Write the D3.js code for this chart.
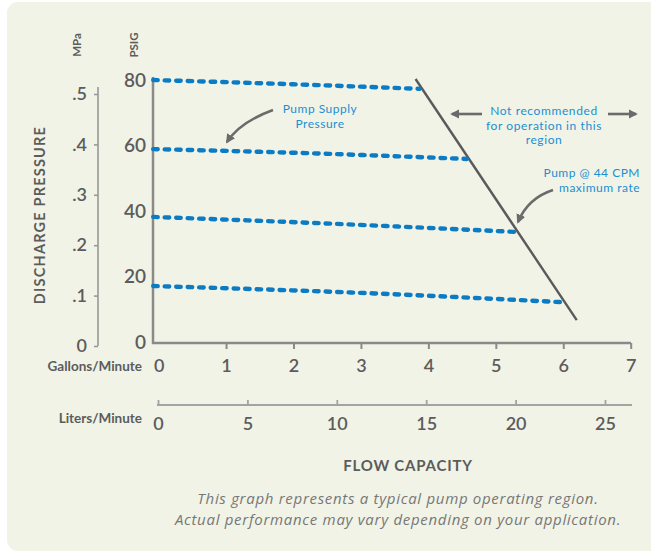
<!DOCTYPE html>
<html><head><meta charset="utf-8">
<script src="https://cdn.jsdelivr.net/npm/d3@7"></script>
<style>
html,body{margin:0;padding:0;background:#fff;}
svg{display:block;}
svg text{font-family:Lato,"Noto Sans",sans-serif;}
</style></head>
<body>
<script>
// ---- data ----
const gpmTicks = [0,1,2,3,4,5,6,7];
const lpmTicks = [0,5,10,15,20,25];
const psigTicks = [0,20,40,60,80];
const mpaTicks = [0,0.1,0.2,0.3,0.4,0.5];
const mpaLabels = ["0",".1",".2",".3",".4",".5"];
// supply pressure curves: [gpm, psig]
const supply80 = [[-0.08,80.3],[2,79.0],[3.87,77.6]];
const supply60 = [[-0.08,59.2],[2.3,57.9],[4.57,56.2]];
const supply40 = [[-0.08,38.5],[2.6,36.4],[5.31,33.9]];
const supply20 = [[-0.08,17.4],[3.0,15.3],[5.95,12.5]];
const supplySeries = [supply80, supply60, supply40, supply20];
const maxRate = [[3.81,80.6],[6.20,7.0]];

const W=651,H=552;
const svg=d3.select("body").append("svg").attr("width",W).attr("height",H);
svg.append("defs").append("marker").attr("id","ah").attr("viewBox","0 0 10 10")
  .attr("refX",8).attr("refY",5).attr("markerWidth",3.6).attr("markerHeight",3.6)
  .attr("orient","auto-start-reverse").attr("markerUnits","strokeWidth")
  .append("path").attr("d","M0,0 L10,5 L0,10 z").attr("fill","#6b6b6b");

svg.append("rect").attr("x",7).attr("y",2).attr("width",660).attr("height",549).attr("rx",11)
  .attr("fill","#f1f3e6");

const x=d3.scaleLinear().domain([0,7]).range([158.6,630.7]);
const xL=d3.scaleLinear().domain([0,25]).range([158,605]);
const y=d3.scaleLinear().domain([0,80]).range([343,81]);
const yM=d3.scaleLinear().domain([0,0.5]).range([346,94]);

const grey="#5c5c5c";
// PSIG axis
svg.append("line").attr("x1",153).attr("x2",153).attr("y1",77).attr("y2",344)
  .attr("stroke","#8a8a8a").attr("stroke-width",2.5);
svg.selectAll(".pl").data(psigTicks).join("text").attr("x",146).attr("y",d=>y(d)+1)
  .attr("text-anchor","end").attr("dominant-baseline","middle").attr("font-size",19)
  .attr("font-weight",600).attr("fill",grey).text(d=>d);
// MPa axis
const gM=svg.append("g").attr("transform","translate(98,0)");
const axM=d3.axisLeft(yM).tickValues(mpaTicks).tickFormat((d,i)=>mpaLabels[i]).tickSize(4).tickPadding(7);
gM.call(axM);
gM.select(".domain").attr("d","M0,87V346").attr("stroke","#999").attr("stroke-width",1.6);
gM.selectAll(".tick line").attr("stroke","#999").attr("stroke-width",1.6);
gM.selectAll(".tick text").attr("font-size",18).attr("font-weight",600).attr("fill",grey);

// Gallons axis
const gG=svg.append("g").attr("transform","translate(0,343)");
gG.call(d3.axisBottom(x).tickValues(gpmTicks).tickFormat(d3.format("d")).tickSize(6).tickPadding(10));
gG.select(".domain").attr("d","M152,0H631").attr("stroke","#8a8a8a").attr("stroke-width",2.5);
gG.selectAll(".tick line").attr("stroke","#8a8a8a").attr("stroke-width",2).attr("opacity",d=>d===0?0:1);
gG.selectAll(".tick text").attr("font-size",18).attr("font-weight",600).attr("fill",grey);

// Liters axis
const gL=svg.append("g").attr("transform","translate(0,405)");
gL.call(d3.axisTop(xL).tickValues(lpmTicks).tickFormat(d3.format("d")).tickSize(5).tickPadding(0));
gL.select(".domain").attr("d","M157,0H632").attr("stroke","#a3a3a3").attr("stroke-width",1.8);
gL.selectAll(".tick line").attr("stroke","#a3a3a3").attr("stroke-width",1.8);
gL.selectAll(".tick text").attr("y",25).attr("dy",0).attr("font-size",18).attr("font-weight",600)
  .attr("fill",grey);

// labels (multi-line via tspans)
const lab=(lines,xx,yy,size,opts={})=>{
  if(!Array.isArray(lines)) lines=[lines];
  const lh=opts.lh||13;
  const e=svg.append("text").attr("x",xx).attr("y",yy).attr("font-size",size)
    .attr("fill",opts.fill||grey).attr("font-weight",opts.weight||600)
    .attr("text-anchor",opts.anchor||"middle").attr("dominant-baseline","middle");
  lines.forEach((t,i)=>e.append("tspan").attr("x",xx).attr("y",yy+i*lh).text(t));
  if(opts.rot) e.attr("transform",`rotate(-90,${xx},${yy})`);
  if(opts.italic) e.style("font-style","italic");
  if(opts.ls) e.attr("letter-spacing",opts.ls);
  if(opts.ff) e.style("font-family",opts.ff);
  return e;
};
lab("Gallons/Minute",142,368,13.5,{anchor:"end",weight:700});
lab("Liters/Minute",142,420,13.5,{anchor:"end",weight:700});
lab("MPa",78,45,11.5,{rot:true,weight:700});
lab("PSIG",135,45,11.5,{rot:true,weight:700});
lab("DISCHARGE PRESSURE",41,215,14.5,{rot:true,weight:700,ls:1.2});
lab("FLOW CAPACITY",408,467,15,{weight:700,ls:0.8});
lab(["This graph represents a typical pump operating region.",
     "Actual performance may vary depending on your application."],398,500,15,
    {italic:true,weight:400,fill:"#777",ff:"'Open Sans',sans-serif",lh:21,ls:0.7});

// max rate line
const line=d3.line().x(d=>x(d[0])).y(d=>y(d[1]));
svg.append("path").attr("d",line(maxRate)).attr("fill","none").attr("stroke","#5a5a5a").attr("stroke-width",2.4);

// supply curves
const curve=d3.line().x(d=>x(d[0])).y(d=>y(d[1])).curve(d3.curveMonotoneX);
svg.selectAll(".sup").data(supplySeries).join("path").attr("d",curve).attr("fill","none")
  .attr("stroke","#0b7bc4").attr("stroke-width",4.4).attr("stroke-dasharray","4.5 7")
  .attr("stroke-linecap","round");

// annotations
const blue="#1b8fd2";
lab(["Pump Supply","Pressure"],320,110,12,{fill:blue,weight:400,lh:14.5,ls:0.5});
lab(["Not recommended","for operation in this","region"],544,112,12,{fill:blue,weight:400,lh:14.5,ls:0.6});
lab(["Pump @ 44 CPM","maximum rate"],640,174,12,{fill:blue,weight:400,anchor:"end",lh:14.5,ls:0.5});

const arr=(d)=>svg.append("path").attr("d",d).attr("fill","none").attr("stroke","#6b6b6b")
  .attr("stroke-width",2.6).attr("marker-end","url(#ah)");
arr("M273,110 Q240,122 227,142");
arr("M553,190 Q528,198 518,222");
arr("M482,114 L452,114");
arr("M608,114 L636,114");
</script>
</body></html>
